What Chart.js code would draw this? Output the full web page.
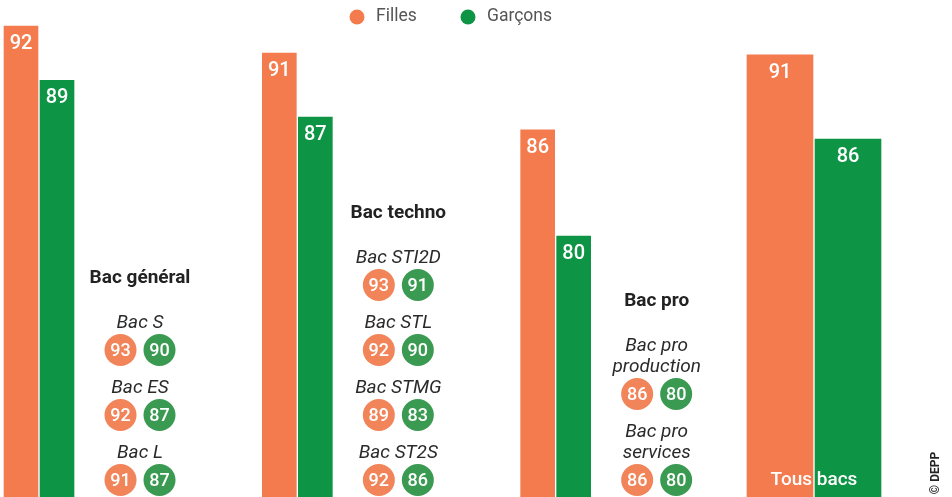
<!DOCTYPE html>
<html>
<head>
<meta charset="utf-8">
<script src="https://cdn.jsdelivr.net/npm/chart.js@4/dist/chart.umd.min.js"></script>
<style>
  body { margin: 0; background: #fff; }
  canvas { display: block; }
</style>
</head>
<body>
<canvas id="chart" width="952" height="497"></canvas>
<script>
// main bars (share of success, %)
var groups = ['Bac général', 'Bac techno', 'Bac pro', 'Tous bacs'];
var filles = [92.4, 90.8, 86.3, 90.7];
var garcons = [89.2, 87.05, 80.05, 85.75];

// detail by track, shown as circles next to each group
var subGroup = [0, 0, 0, 1, 1, 1, 1, 2, 2];
var subLabels = [['Bac S'], ['Bac ES'], ['Bac L'], ['Bac STI2D'], ['Bac STL'], ['Bac STMG'], ['Bac ST2S'], ['Bac pro', 'production'], ['Bac pro', 'services']];
var subFilles = [93, 92, 91, 93, 92, 89, 92, 86, 86];
var subGarcons = [90, 87, 87, 91, 90, 83, 86, 80, 80];

var ORANGE = '#F47B4E';
var GREEN = '#0E9445';
var ORANGE_DOT = '#F2845A';
var GREEN_DOT = '#3B9A52';
var FONT = 'Roboto, "Liberation Sans", sans-serif';

var last = groups.length - 1;
function partial(arr, keepLast) {
    return arr.map(function (v, i) { return (i === last) === keepLast ? v : null; });
}

var overlay = {
    id: 'overlay',
    afterDatasetsDraw: function (chart) {
        var ctx = chart.ctx;
        var xs = chart.scales.x;
        ctx.save();

        // values inside the bars
        ctx.fillStyle = '#fff';
        ctx.textAlign = 'center';
        ctx.textBaseline = 'middle';
        ctx.font = '500 20px ' + FONT;
        chart.data.datasets.forEach(function (ds, di) {
            chart.getDatasetMeta(di).data.forEach(function (el, i) {
                if (ds.data[i] == null) return;
                ctx.fillText(Math.round(ds.data[i]), el.x, el.y + 19);
            });
        });

        // "Tous bacs" at the foot of the last pair
        ctx.font = '500 19px ' + FONT;
        ctx.fillText(groups[last], xs.getPixelForValue(last), chart.chartArea.bottom - 16);

        // detail blocks, stacked from the bottom up
        for (var g = 0; g < last; g++) {
            var cx = xs.getPixelForValue(g) + 101;
            var items = [];
            subGroup.forEach(function (sg, k) { if (sg === g) items.push(k); });
            var cy = 480;
            var top = cy;
            for (var j = items.length - 1; j >= 0; j--) {
                var k = items[j];
                var dots = [[cx - 19.5, ORANGE_DOT, subFilles[k]], [cx + 19.5, GREEN_DOT, subGarcons[k]]];
                dots.forEach(function (d) {
                    ctx.beginPath();
                    ctx.arc(d[0], cy, 16, 0, Math.PI * 2);
                    ctx.fillStyle = d[1];
                    ctx.fill();
                    ctx.fillStyle = '#fff';
                    ctx.font = '500 18px ' + FONT;
                    ctx.fillText(d[2], d[0], cy + 1);
                });
                var lines = subLabels[k];
                ctx.fillStyle = '#2a2a2a';
                ctx.font = 'italic 19px ' + FONT;
                var ly = cy - 27;
                for (var l = lines.length - 1; l >= 0; l--) {
                    ctx.fillText(lines[l], cx, ly);
                    top = ly;
                    ly -= 21;
                }
                cy = top - 38;
            }
            ctx.fillStyle = '#222';
            ctx.font = 'bold 19px ' + FONT;
            ctx.fillText(groups[g], cx, top - 45);
        }
        ctx.restore();
    },
    afterDraw: function (chart) {
        var ctx = chart.ctx;
        ctx.save();
        ctx.textBaseline = 'middle';
        ctx.textAlign = 'left';
        ctx.font = '17.5px ' + FONT;
        [[357, ORANGE, 'Filles'], [468, GREEN, 'Garçons']].forEach(function (it) {
            ctx.beginPath();
            ctx.arc(it[0], 17, 7.5, 0, Math.PI * 2);
            ctx.fillStyle = it[1];
            ctx.fill();
            ctx.fillStyle = '#555';
            ctx.fillText(it[2], it[0] + 19, 17);
        });
        // source
        ctx.translate(936, 473);
        ctx.rotate(-Math.PI / 2);
        ctx.textAlign = 'center';
        ctx.fillStyle = '#222';
        ctx.font = 'bold 12px ' + FONT;
        ctx.fillText('© DEPP', 0, 0);
        ctx.restore();
    }
};

var ctx = document.getElementById('chart').getContext('2d');
var chart = new Chart(ctx, {
    type: 'bar',
    data: {
        labels: groups,
        datasets: [
            { label: 'Filles', data: partial(filles, false), backgroundColor: ORANGE, barThickness: 36 },
            { label: 'Garçons', data: partial(garcons, false), backgroundColor: GREEN, barThickness: 36 },
            { label: 'Filles', data: partial(filles, true), backgroundColor: ORANGE, barThickness: 68 },
            { label: 'Garçons', data: partial(garcons, true), backgroundColor: GREEN, barThickness: 68 }
        ]
    },
    options: {
        responsive: false,
        animation: false,
        layout: { padding: { left: 39, right: 138, top: 0, bottom: 1 } },
        datasets: {
            bar: {
                skipNull: true,
                clip: false,
                borderWidth: 1,
                borderColor: 'rgba(255,255,255,0.55)'
            }
        },
        plugins: {
            legend: { display: false },
            tooltip: { enabled: false }
        },
        scales: {
            x: { display: false, offset: false },
            y: { display: false, min: 64.7, max: 93.87 }
        }
    },
    plugins: [overlay]
});
</script>
</body>
</html>
